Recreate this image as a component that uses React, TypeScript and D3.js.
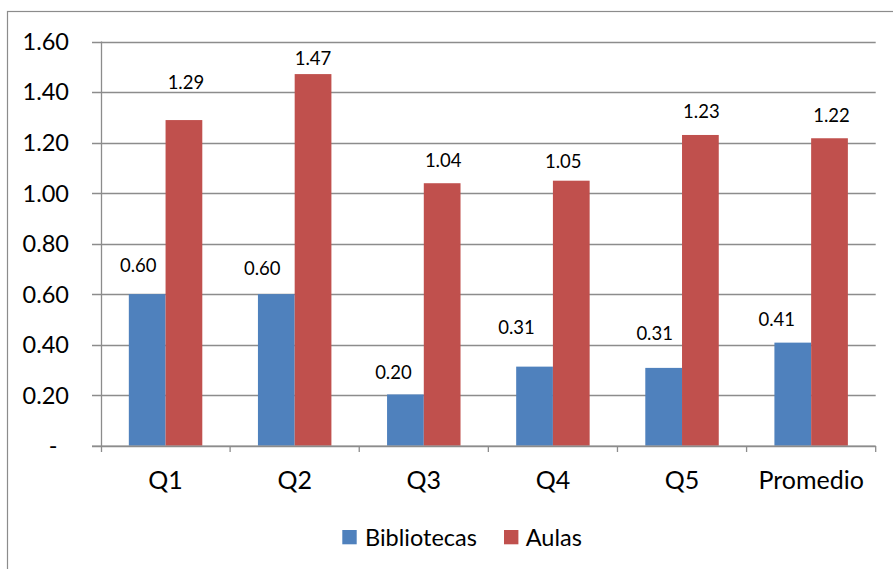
import React from "react";
import * as d3 from "d3";

const categories = ["Q1", "Q2", "Q3", "Q4", "Q5", "Promedio"];
const seriesNames = ["Bibliotecas", "Aulas"];
const bibliotecas = [0.6, 0.6, 0.203, 0.313, 0.308, 0.408];
const aulas = [1.289, 1.471, 1.039, 1.049, 1.23, 1.217];
const yTicks = [0, 0.2, 0.4, 0.6, 0.8, 1.0, 1.2, 1.4, 1.6];
const yTickLabels = ["-", "0.20", "0.40", "0.60", "0.80", "1.00", "1.20", "1.40", "1.60"];
// manual label nudges (dx, dy from bar top-center), as placed in the original
const labelNudgeB = [[-9, -29], [-14, -26], [-12, -22], [-18, -39], [-9, -35], [-16, -23]];
const labelNudgeA = [[2, -38], [0, -16], [1, -23], [-8, -19], [1, -24], [2, -23]];

const colors = ["#4F81BD", "#C0504D"];
const W = 893;
const H = 569;
const FONT = "Lato, 'Open Sans', sans-serif";

export default function App() {
  const x0 = d3.scaleBand<string>().domain(categories).range([101, 875.7]).paddingInner(0).paddingOuter(0);
  const bw = x0.bandwidth();
  const groupW = bw * 0.569;
  const x1 = d3.scaleBand<string>().domain(seriesNames).range([(bw - groupW) / 2, (bw + groupW) / 2]);
  const y = d3.scaleLinear().domain([0, 1.6]).range([445.7, 41.5]);
  const series = [bibliotecas, aulas];
  const nudges = [labelNudgeB, labelNudgeA];
  const grid = "#8c8c8c";

  return (
    <svg width={W} height={H} style={{ position: "absolute", left: 0, top: 0, background: "#fff" }} fontFamily={FONT}>
      <rect x={7.5} y={11.5} width={W + 10} height={H + 10} fill="#fff" stroke={grid} strokeWidth={1.2} />
      {/* gridlines */}
      {yTicks.map((t, i) => (
        <line key={"g" + i} x1={92} x2={875.7} y1={Math.round(y(t)) + 0.5} y2={Math.round(y(t)) + 0.5} stroke={grid} strokeWidth={1.3} />
      ))}
      {/* y tick labels */}
      {yTicks.map((t, i) => (
        <text key={"yl" + i} x={t === 0 ? 53 : 69} y={y(t)} dy="0.36em" textAnchor={t === 0 ? "middle" : "end"} fontSize={23.5} fill="#000">
          {yTickLabels[i]}
        </text>
      ))}
      {/* bars */}
      {categories.map((c, ci) =>
        series.map((s, si) => (
          <rect
            key={c + si}
            x={(x0(c) as number) + (x1(seriesNames[si]) as number)}
            y={y(s[ci])}
            width={x1.bandwidth()}
            height={y(0) - y(s[ci])}
            fill={colors[si]}
          />
        ))
      )}
      {/* axes */}
      <line x1={101.5} x2={101.5} y1={41.5} y2={452} stroke={grid} strokeWidth={1.3} />
      <line x1={92} x2={875.7} y1={446.2} y2={446.2} stroke={grid} strokeWidth={1.3} />
      {categories.map((c, ci) => (
        <line key={"t" + ci} x1={(x0(c) as number) + bw} x2={(x0(c) as number) + bw} y1={446} y2={452} stroke={grid} strokeWidth={1.3} />
      ))}
      {/* data labels */}
      {categories.map((c, ci) =>
        series.map((s, si) => (
          <text
            key={"dl" + c + si}
            x={(x0(c) as number) + (x1(seriesNames[si]) as number) + x1.bandwidth() / 2 + nudges[si][ci][0]}
            y={y(s[ci]) + nudges[si][ci][1]}
            dy="0.36em"
            textAnchor="middle"
            fontSize={18.5}
            fill="#000"
          >
            {d3.format(".2f")(s[ci])}
          </text>
        ))
      )}
      {/* category labels */}
      {categories.map((c) => (
        <text key={"cl" + c} x={(x0(c) as number) + bw / 2} y={480} dy="0.36em" textAnchor="middle" fontSize={25} fill="#000">
          {c}
        </text>
      ))}
      {/* legend */}
      <rect x={342.3} y={530} width={14.4} height={14.3} fill={colors[0]} />
      <text x={365} y={538} dy="0.36em" fontSize={23.5} fill="#000">{seriesNames[0]}</text>
      <rect x={504} y={530} width={14.4} height={14.3} fill={colors[1]} />
      <text x={525.7} y={538} dy="0.36em" fontSize={23.5} fill="#000">{seriesNames[1]}</text>
    </svg>
  );
}
